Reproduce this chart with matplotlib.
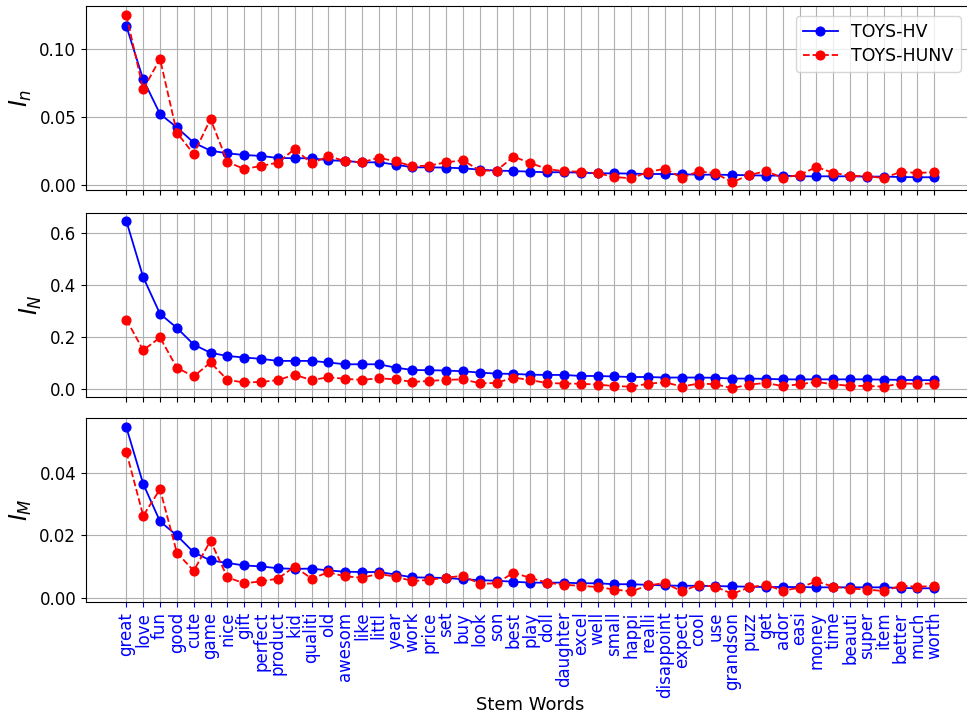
import matplotlib.pyplot as plt
import numpy as np

words = ['great', 'love', 'fun', 'good', 'cute', 'game', 'nice', 'gift', 'perfect',
         'product', 'kid', 'qualiti', 'old', 'awesom', 'like', 'littl', 'year', 'work',
         'price', 'set', 'buy', 'look', 'son', 'best', 'play', 'doll', 'daughter',
         'excel', 'well', 'small', 'happi', 'realli', 'disappoint', 'expect', 'cool',
         'use', 'grandson', 'puzz', 'get', 'ador', 'easi', 'money', 'time', 'beauti',
         'super', 'item', 'better', 'much', 'worth']

# I_n
In_hv = [0.1172, 0.0779, 0.0525, 0.0426, 0.0314, 0.0255, 0.0235, 0.0223, 0.0216,
         0.0201, 0.0199, 0.0199, 0.0184, 0.0179, 0.0169, 0.0169, 0.0152, 0.0132,
         0.0132, 0.0130, 0.0125, 0.0115, 0.0108, 0.0105, 0.0100, 0.0096, 0.0096,
         0.0093, 0.0088, 0.0088, 0.0086, 0.0083, 0.0083, 0.0081, 0.0078, 0.0078,
         0.0076, 0.0074, 0.0071, 0.0071, 0.0066, 0.0066, 0.0066, 0.0066, 0.0064,
         0.0064, 0.0061, 0.0059, 0.0059]
In_hunv = [0.1252, 0.0706, 0.0931, 0.0387, 0.0230, 0.0488, 0.0172, 0.0120, 0.0142,
           0.0167, 0.0267, 0.0162, 0.0213, 0.0179, 0.0169, 0.0203, 0.0176, 0.0140,
           0.0145, 0.0169, 0.0184, 0.0108, 0.0108, 0.0211, 0.0164, 0.0120, 0.0103,
           0.0100, 0.0088, 0.0061, 0.0051, 0.0098, 0.0122, 0.0054, 0.0103, 0.0088,
           0.0022, 0.0076, 0.0103, 0.0056, 0.0076, 0.0135, 0.0091, 0.0071, 0.0066,
           0.0054, 0.0098, 0.0091, 0.0096]

# I_N
IN_hv = [0.647, 0.431, 0.290, 0.236, 0.172, 0.140, 0.128, 0.122, 0.117, 0.109,
         0.109, 0.109, 0.103, 0.096, 0.096, 0.096, 0.083, 0.074, 0.073, 0.072,
         0.069, 0.064, 0.060, 0.059, 0.056, 0.055, 0.055, 0.051, 0.051, 0.049,
         0.047, 0.047, 0.045, 0.045, 0.045, 0.044, 0.041, 0.041, 0.040, 0.038,
         0.038, 0.038, 0.038, 0.038, 0.038, 0.037, 0.036, 0.035, 0.035]
IN_hunv = [0.268, 0.150, 0.199, 0.083, 0.049, 0.103, 0.036, 0.026, 0.028, 0.035,
           0.056, 0.035, 0.046, 0.040, 0.036, 0.042, 0.038, 0.028, 0.032, 0.036,
           0.038, 0.023, 0.024, 0.045, 0.035, 0.024, 0.022, 0.021, 0.018, 0.012,
           0.010, 0.021, 0.027, 0.010, 0.022, 0.019, 0.004, 0.018, 0.024, 0.012,
           0.019, 0.028, 0.019, 0.013, 0.013, 0.010, 0.022, 0.021, 0.022]

# I_M
IM_hv = [0.0545, 0.0364, 0.0244, 0.0199, 0.0145, 0.0119, 0.0111, 0.0103, 0.0100,
         0.0094, 0.0092, 0.0093, 0.0087, 0.0083, 0.0082, 0.0082, 0.0074, 0.0065,
         0.0064, 0.0063, 0.0059, 0.0056, 0.0054, 0.0051, 0.0048, 0.0048, 0.0048,
         0.0046, 0.0046, 0.0043, 0.0043, 0.0041, 0.0039, 0.0038, 0.0038, 0.0037,
         0.0036, 0.0035, 0.0034, 0.0034, 0.0034, 0.0033, 0.0033, 0.0033, 0.0033,
         0.0033, 0.0031, 0.0030, 0.0030]
IM_hunv = [0.0466, 0.0262, 0.0347, 0.0144, 0.0086, 0.0182, 0.0065, 0.0046, 0.0052,
           0.0061, 0.0099, 0.0061, 0.0081, 0.0068, 0.0064, 0.0076, 0.0067, 0.0053,
           0.0057, 0.0064, 0.0070, 0.0044, 0.0046, 0.0080, 0.0063, 0.0048, 0.0041,
           0.0038, 0.0034, 0.0026, 0.0020, 0.0039, 0.0047, 0.0020, 0.0041, 0.0035,
           0.0012, 0.0033, 0.0041, 0.0022, 0.0032, 0.0052, 0.0035, 0.0029, 0.0026,
           0.0021, 0.0038, 0.0035, 0.0037]

x = np.arange(len(words))
fig = plt.figure(figsize=(9.67, 7.19), dpi=100)

panels = [(In_hv, In_hunv, '$I_n$', 0.7357, [0.00, 0.05, 0.10], '%.2f', (-0.0035, 0.132)),
          (IN_hv, IN_hunv, '$I_N$', 0.4478, [0.0, 0.2, 0.4, 0.6], '%.1f', (-0.030, 0.678)),
          (IM_hv, IM_hunv, '$I_M$', 0.1627, [0.00, 0.02, 0.04], '%.2f', (-0.0014, 0.0575))]
axes = []
for i, (hv, hunv, lab, bottom, yt, fmt, yl) in enumerate(panels):
    ax = fig.add_axes([0.0889, bottom, 0.919, 0.256])
    ax.plot(x, hv, 'b-', marker='o', markersize=6.3, linewidth=1.3, label='TOYS-HV')
    ax.plot(x, hunv, 'r--', marker='o', markersize=6.3, linewidth=1.3, label='TOYS-HUNV')
    ax.set_xlim(-2.4, 50.4)
    ax.set_ylim(*yl)
    ax.set_yticks(yt)
    ax.set_yticklabels([fmt % v for v in yt])
    ax.set_xticks(x)
    ax.grid(True, color='#b0b0b0', linewidth=0.8)
    ax.set_ylabel(lab, fontsize=17)
    ax.tick_params(axis='y', labelsize=12)
    if i < 2:
        ax.set_xticklabels([])
    else:
        ax.set_xticklabels(words, rotation=90, color='blue', fontsize=12)
        ax.tick_params(axis='x', colors='blue', labelcolor='blue')
        ax.set_xlabel('Stem Words', fontsize=13)
        ax.xaxis.set_label_coords(0.5, -0.51)
    axes.append(ax)

axes[0].legend(loc='upper right', fontsize=12.5, labelspacing=0.3,
               bbox_to_anchor=(0.994, 0.99))

fig.savefig('out.png', dpi=100)
